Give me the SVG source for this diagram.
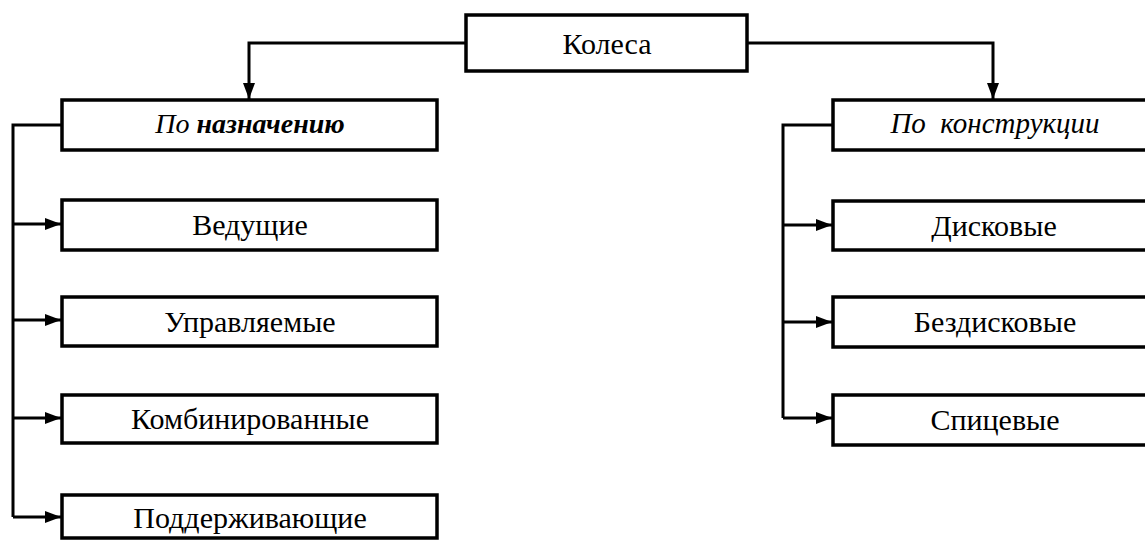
<svg xmlns="http://www.w3.org/2000/svg" width="1145" height="542" viewBox="0 0 1145 542">
<defs>
<style>
.box{fill:#fff;stroke:#000;stroke-width:3.5}
.c{fill:none;stroke:#000;stroke-width:3}
</style>
<marker id="ar" viewBox="0 0 16 12" refX="16" refY="6" markerWidth="16" markerHeight="12" markerUnits="userSpaceOnUse" orient="auto">
<path d="M0,0 L16,6 L0,12 z" fill="#000"/>
</marker>
</defs>
<rect width="1145" height="542" fill="#fff"/>
<g id="connectors">
<path class="c" d="M466,43 H249 V99" marker-end="url(#ar)"/>
<path class="c" d="M747,43 H993 V99" marker-end="url(#ar)"/>
<path class="c" d="M62,125 H13 V517"/>
<path class="c" d="M13,224 H61" marker-end="url(#ar)"/>
<path class="c" d="M13,320 H61" marker-end="url(#ar)"/>
<path class="c" d="M13,418 H61" marker-end="url(#ar)"/>
<path class="c" d="M13,517 H61" marker-end="url(#ar)"/>
<path class="c" d="M833,125 H783 V418"/>
<path class="c" d="M783,225 H832" marker-end="url(#ar)"/>
<path class="c" d="M783,322 H832" marker-end="url(#ar)"/>
<path class="c" d="M783,418 H832" marker-end="url(#ar)"/>
</g>
<g font-family="Liberation Serif, serif" font-size="30" text-anchor="middle" fill="#000">
<g id="n-kolesa"><rect class="box" x="466" y="15" width="281" height="56"/><text x="607" y="54">Колеса</text></g>
<g id="n-naznach"><rect class="box" x="62" y="100" width="375" height="50"/><text x="250" y="133" font-size="28" font-style="italic">По <tspan font-weight="bold">назначению</tspan></text></g>
<g id="n-vedushie"><rect class="box" x="62" y="200" width="375" height="50"/><text x="250" y="235">Ведущие</text></g>
<g id="n-upravl"><rect class="box" x="62" y="297" width="375" height="49"/><text x="250" y="332">Управляемые</text></g>
<g id="n-kombin"><rect class="box" x="62" y="395" width="375" height="48"/><text x="250" y="429">Комбинированные</text></g>
<g id="n-podderzh"><rect class="box" x="62" y="495" width="375" height="43"/><text x="250" y="528">Поддерживающие</text></g>
<g id="n-konstr"><rect class="box" x="833" y="100" width="330" height="50"/><text x="995" y="133" font-size="29" font-style="italic" xml:space="preserve">По  конструкции</text></g>
<g id="n-disk"><rect class="box" x="833" y="201" width="330" height="49"/><text x="994" y="236">Дисковые</text></g>
<g id="n-bezdisk"><rect class="box" x="833" y="297" width="330" height="50"/><text x="995" y="332">Бездисковые</text></g>
<g id="n-spic"><rect class="box" x="833" y="395" width="330" height="50"/><text x="995" y="430">Спицевые</text></g>
</g>
</svg>
